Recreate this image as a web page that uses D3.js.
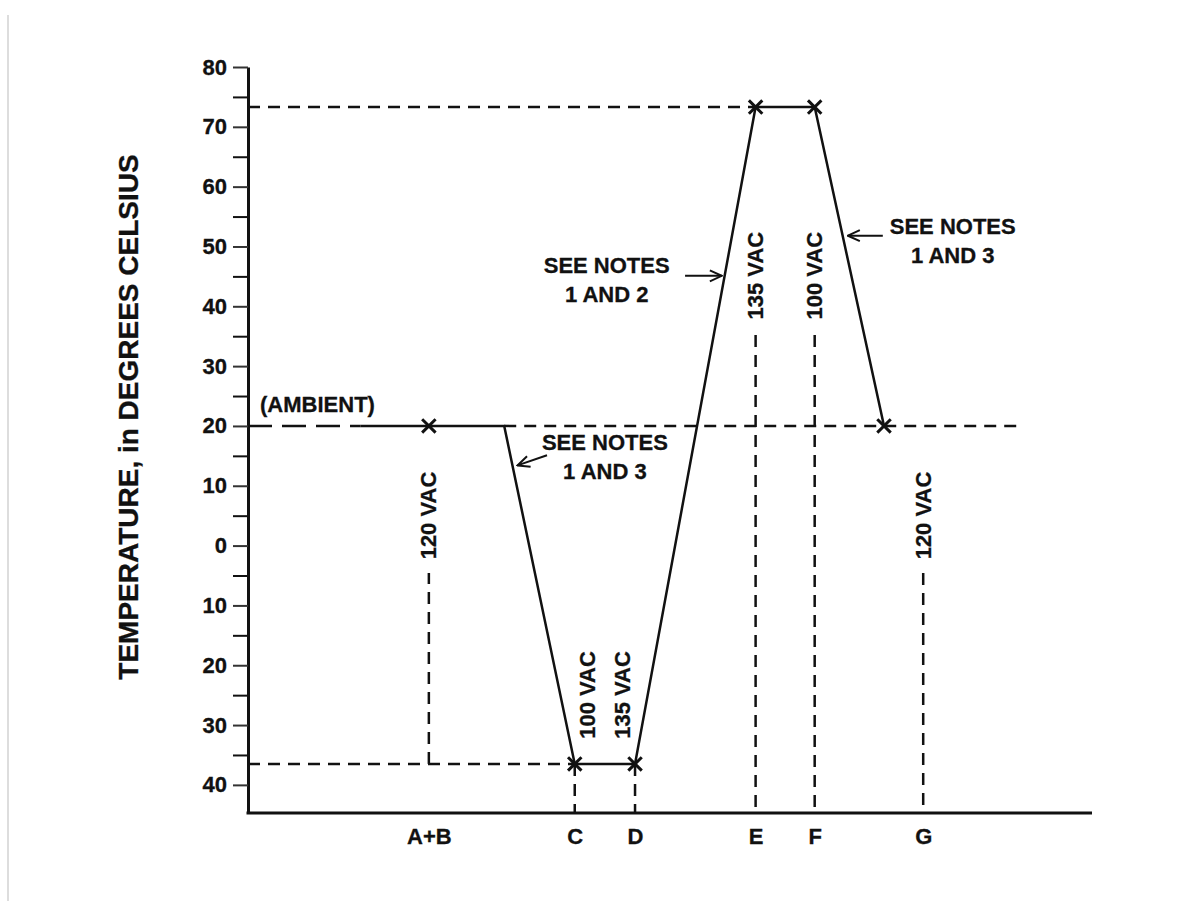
<!DOCTYPE html>
<html>
<head>
<meta charset="utf-8">
<script src="https://cdn.jsdelivr.net/npm/d3@7"></script>
<style>
  body { margin: 0; background: #fff; }
  text { font-family: "Liberation Sans", Arial, sans-serif; font-weight: bold; fill: #111; stroke: #111; stroke-width: 0.3px; }
</style>
</head>
<body>
<div id="chart"></div>
<script>
// test sequence positions (arbitrary time units along the x axis)
const phases = ["A+B", "C", "D", "E", "F", "G"];
const phaseX = [3.0, 5.42, 6.42, 8.42, 9.4, 11.2];
const phaseVolts = ["120 VAC", "100 VAC", "135 VAC", "135 VAC", "100 VAC", "120 VAC"];

// temperature profile (solid line)
const profileX = [1.87, 3.0, 4.25, 5.42, 6.42, 8.42, 9.4, 10.55];
const profileT = [20, 20, 20, -36.5, -36.5, 73.3, 73.3, 20];

// points marked with an X
const markX = [3.0, 5.42, 6.42, 8.42, 9.4, 10.55];
const markT = [20, -36.5, -36.5, 73.3, 73.3, 20];

// y ticks
const yMajor = d3.range(-40, 81, 10);
const yMinor = d3.range(-35, 80, 10);

var width = 1193, height = 901;
var mLeft = 248, mRight = 1092, mTop = 67, mBottom = 813;
var fs = 22;

var svg = d3.select("#chart").append("svg")
  .attr("width", width)
  .attr("height", height);

var x = d3.scaleLinear().domain([0, 14]).range([mLeft, mRight]);
var y = d3.scaleLinear().domain([-44.7, 80]).range([mBottom, mTop]);

// page edge
svg.append("line")
  .attr("x1", 8).attr("x2", 8).attr("y1", 15).attr("y2", height)
  .attr("stroke", "#ddd").attr("stroke-width", 2);

var dash = "12,8";
function hline(t, x0, x1, da) {
  svg.append("line")
    .attr("x1", x(x0)).attr("x2", x(x1))
    .attr("y1", y(t)).attr("y2", y(t))
    .attr("stroke", "#111").attr("stroke-width", 2.5)
    .attr("stroke-dasharray", da);
}
function vline(px, t0, t1) {
  svg.append("line")
    .attr("x1", x(px)).attr("x2", x(px))
    .attr("y1", y(t0)).attr("y2", y(t1))
    .attr("stroke", "#111").attr("stroke-width", 2.5)
    .attr("stroke-dasharray", dash);
}

// reference levels
hline(20, 0, 1.87, "24,10");
hline(20, 4.25, 12.75, dash);
hline(73.3, 0, 8.42, dash);
hline(-36.5, 0, 5.42, dash);

// vertical guides at each phase
vline(phaseX[0], -36.5, -4.6);
vline(phaseX[1], -36.5, -44.7);
vline(phaseX[2], -36.5, -44.7);
vline(phaseX[3], 35.2, -44.7);
vline(phaseX[4], 35.2, -44.7);
vline(phaseX[5], -4.6, -44.7);

// profile
var line = d3.line().x((d, i) => x(profileX[i])).y(d => y(d));
svg.append("path")
  .datum(profileT)
  .attr("d", line)
  .attr("fill", "none")
  .attr("stroke", "#111")
  .attr("stroke-width", 2.5)
  .attr("stroke-linejoin", "miter");

svg.selectAll(".mark")
  .data(markT)
  .join("path")
  .attr("class", "mark")
  .attr("transform", (d, i) => "translate(" + x(markX[i]) + "," + y(d) + ")")
  .attr("d", d3.symbol(d3.symbolTimes, 120))
  .attr("fill", "none")
  .attr("stroke", "#111")
  .attr("stroke-width", 3);

// axes
var yAxis = svg.append("g")
  .attr("transform", "translate(" + mLeft + ",0)")
  .call(d3.axisLeft(y).tickValues(yMajor).tickSize(15).tickSizeOuter(0).tickPadding(6)
    .tickFormat(d => Math.abs(d)));
yAxis.select(".domain").attr("stroke", "#111").attr("stroke-width", 3);
yAxis.selectAll(".tick line").attr("stroke", "#333").attr("stroke-width", 2);
yAxis.selectAll(".tick text").attr("font-size", fs).attr("font-family", null).attr("fill", null);

var yMin = svg.append("g")
  .attr("transform", "translate(" + mLeft + ",0)")
  .call(d3.axisLeft(y).tickValues(yMinor).tickSize(15).tickFormat(""));
yMin.select(".domain").remove();
yMin.selectAll(".tick line").attr("stroke", "#111").attr("stroke-width", 2);

var xAxis = svg.append("g")
  .attr("transform", "translate(0," + mBottom + ")")
  .call(d3.axisBottom(x).tickValues(phaseX).tickSize(0).tickSizeOuter(0).tickPadding(15)
    .tickFormat((d, i) => phases[i]));
xAxis.select(".domain").attr("stroke", "#111").attr("stroke-width", 3)
  .attr("d", "M" + (mLeft - 1.5) + ",0H" + mRight);
xAxis.selectAll(".tick text").attr("font-size", fs).attr("font-family", null).attr("fill", null);

// axis title
svg.append("text")
  .attr("transform", "translate(128,417) rotate(-90)")
  .attr("text-anchor", "middle")
  .attr("dominant-baseline", "central")
  .attr("font-size", 28)
  .text("TEMPERATURE, in DEGREES CELSIUS");

svg.append("text")
  .attr("x", x(0.2)).attr("y", y(22.3))
  .attr("font-size", fs)
  .text("(AMBIENT)");

// voltage labels (rotated), bottom of text at given temperature
const voltOffset = [0, 0.21, -0.2, 0, 0, 0];
const voltBase = [-2.3, -32.3, -32.3, 37.8, 37.8, -2.3];
svg.selectAll(".volt")
  .data(phaseVolts)
  .join("text")
  .attr("class", "volt")
  .attr("transform", (d, i) => "translate(" + x(phaseX[i] + voltOffset[i]) + "," + y(voltBase[i]) + ") rotate(-90)")
  .attr("dominant-baseline", "central")
  .attr("font-size", fs)
  .text(d => d);

// notes with arrows
svg.append("defs").append("marker")
  .attr("id", "arr")
  .attr("viewBox", "0 0 14 14")
  .attr("refX", 13).attr("refY", 7)
  .attr("markerWidth", 14).attr("markerHeight", 14)
  .attr("markerUnits", "userSpaceOnUse")
  .attr("orient", "auto")
  .append("path")
  .attr("d", "M1,1.5L13,7L1,12.5")
  .attr("fill", "none").attr("stroke", "#111").attr("stroke-width", 2);

const noteText = [["SEE NOTES", "1 AND 3"], ["SEE NOTES", "1 AND 2"], ["SEE NOTES", "1 AND 3"]];
const noteX = [5.92, 5.95, 11.69];
const noteT = [17.3, 46.9, 53.4];
const arrowFrom = [[4.96, 15.1], [7.25, 45.1], [10.53, 51.8]];
const arrowTo = [[4.47, 13.4], [7.86, 45.1], [9.95, 51.8]];

noteText.forEach(function(lines, i) {
  var t = svg.append("text")
    .attr("x", x(noteX[i])).attr("y", y(noteT[i]))
    .attr("text-anchor", "middle")
    .attr("dominant-baseline", "central")
    .attr("font-size", fs);
  lines.forEach(function(s, j) {
    t.append("tspan").attr("x", x(noteX[i])).attr("dy", j == 0 ? 0 : 29).text(s);
  });
  svg.append("line")
    .attr("x1", x(arrowFrom[i][0])).attr("y1", y(arrowFrom[i][1]))
    .attr("x2", x(arrowTo[i][0])).attr("y2", y(arrowTo[i][1]))
    .attr("stroke", "#111").attr("stroke-width", 2)
    .attr("marker-end", "url(#arr)");
});
</script>
</body>
</html>
